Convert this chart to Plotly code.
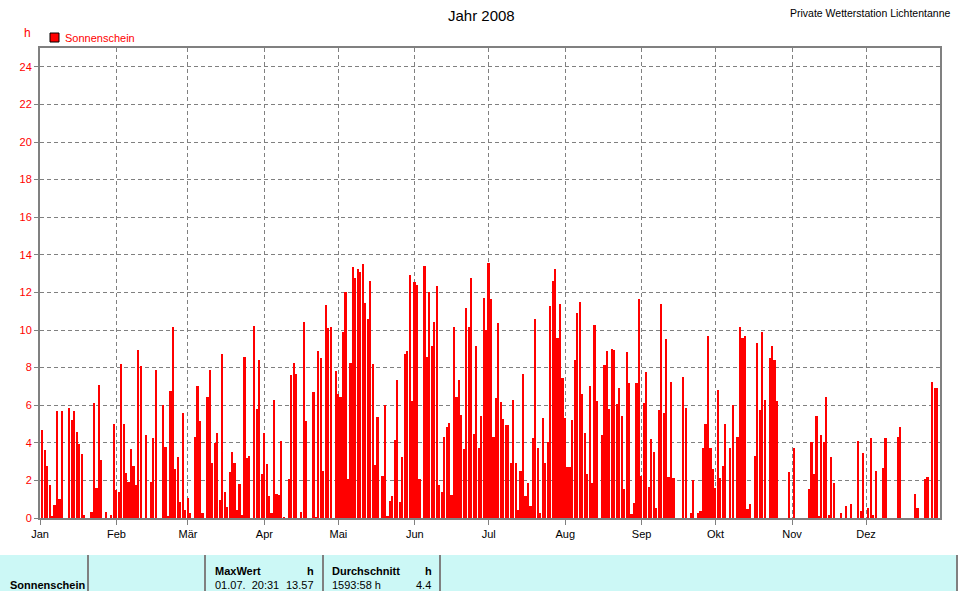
import plotly.graph_objects as go
import pandas as pd

# ---- data: daily sunshine hours 2008 (h) ----
months = ["Jan", "Feb", "Mär", "Apr", "Mai", "Jun", "Jul", "Aug", "Sep", "Okt", "Nov", "Dez"]

jan = [0, 4.7, 3.6, 2.75, 1.75, 0.1, 0.7, 5.7, 1.0, 5.7, 0, 0, 5.85, 5.2, 5.7, 4.6,
       3.95, 3.4, 0.15, 0, 0, 0.3, 6.1, 1.6, 7.05, 3.1, 0, 0.3, 0, 0.15, 5.0]
feb = [1.5, 1.4, 8.2, 5.0, 2.4, 1.9, 3.65, 2.75, 1.75, 8.95, 8.1, 0, 4.4, 0, 1.9,
       4.25, 7.85, 0, 0, 6.0, 3.8, 0.1, 6.75, 10.15, 2.6, 3.25, 0.85, 5.6, 0.4]
mar = [1.05, 0.25, 0, 4.3, 7.0, 5.15, 0.25, 0, 6.45, 7.85, 2.9, 4.0, 4.5, 0.95, 8.7,
       1.4, 0.6, 2.45, 3.5, 2.95, 0.45, 1.8, 0.15, 8.55, 3.2, 3.3, 0, 10.2, 5.8, 8.4, 2.35]
apr = [4.5, 2.85, 1.15, 0.25, 6.3, 1.3, 1.25, 4.1, 0.05, 0, 2.1, 7.6, 8.25, 7.65, 0,
       0.3, 10.45, 5.15, 0, 0, 6.7, 0.05, 8.9, 8.5, 2.5, 11.35, 10.1, 10.15, 0, 7.8]
mai = [6.6, 6.45, 9.9, 12.0, 2.05, 8.25, 13.35, 12.75, 13.25, 13.1, 13.5, 11.45, 10.6,
       12.6, 8.2, 2.8, 5.35, 0, 2.25, 6.0, 0.1, 0.9, 1.15, 4.15, 7.35, 0.85, 3.25, 8.7,
       8.9, 12.9, 6.2]
jun = [12.55, 12.4, 2.05, 0, 13.4, 8.55, 12.0, 9.15, 10.45, 12.35, 1.75, 1.4, 4.3, 4.85,
       5.05, 1.2, 10.15, 6.45, 7.35, 5.5, 3.65, 11.15, 10.15, 12.75, 4.45, 9.15, 3.7,
       5.4, 11.7, 10.0]
jul = [13.57, 11.65, 4.3, 6.4, 10.35, 6.15, 5.25, 4.95, 4.95, 2.9, 6.3, 2.95, 0.4, 2.5,
       7.65, 1.15, 1.85, 0.65, 4.25, 10.6, 3.7, 0.25, 5.3, 2.9, 4.05, 11.3, 12.6, 13.25,
       9.55, 11.4, 7.45]
aug = [5.3, 2.7, 2.7, 5.2, 8.4, 10.9, 11.5, 6.6, 4.5, 2.35, 7.0, 1.85, 10.25, 6.25, 0,
       4.4, 8.15, 8.9, 5.8, 9.0, 8.95, 6.05, 6.9, 5.4, 1.55, 8.85, 7.2, 0.2, 0.8, 7.2, 11.65]
sep = [2.25, 6.1, 7.75, 1.65, 4.2, 3.5, 0.55, 5.75, 11.4, 5.6, 9.5, 2.2, 7.25, 2.15, 0,
       0, 0, 7.5, 5.85, 0, 0.25, 2.0, 0, 0.25, 0.35, 3.7, 5.0, 9.7, 3.7, 2.6]
okt = [1.6, 6.8, 2.15, 2.75, 5.0, 0, 3.75, 6.0, 0, 4.3, 10.15, 9.55, 9.7, 0.5, 0.75, 0,
       3.3, 9.3, 5.75, 9.9, 6.3, 0, 8.5, 9.15, 8.4, 6.2, 0, 0, 0, 0, 2.45]
nov = [0, 3.7, 0, 0, 0, 0, 0, 1.55, 4.05, 2.35, 5.4, 0.1, 4.4, 4.05, 6.45, 0.15, 3.25,
       1.85, 0, 0, 0.25, 0, 0.65, 0, 0.75, 0, 0, 4.1, 0.35, 3.45]
dez = [0, 0.55, 4.25, 0.15, 2.5, 0, 0, 2.65, 4.25, 0, 0, 0, 0, 4.3, 4.85, 0, 0, 0, 0, 0,
       1.3, 0.55, 0, 0, 2.05, 2.2, 0, 7.25, 6.9, 6.9, 0]

values = jan + feb + mar + apr + mai + jun + jul + aug + sep + okt + nov + dez
dates = pd.date_range("2008-01-01", "2008-12-31", freq="D")
month_starts = pd.date_range("2008-01-01", periods=12, freq="MS")
y_ticks = list(range(0, 25, 2))

series_name = "Sonnenschein"
title_text = "Jahr 2008"
station_text = "Private Wetterstation Lichtentanne"
unit_text = "h"
max_label = "MaxWert"
max_time = "01.07.  20:31"
max_value = "13.57"
avg_label = "Durchschnitt"
avg_total = "1593:58 h"
avg_value = "4.4"

# ---- layout helpers (pixel -> paper) ----
W, H = 960, 591
L, R, T, B = 40, 940, 48, 518


def px(x):
    return (x - L) / (R - L)


def py(y):
    return (B - y) / (B - T)


FONT = "Liberation Sans, Arial, sans-serif"
GRAY = "#808080"
RED = "#ff0000"
DASH = "4px,3px"

fig = go.Figure(
    go.Bar(
        x=dates,
        y=values,
        name=series_name,
        marker=dict(color=RED, line=dict(width=0)),
        width=0.68 * 86400000,
        showlegend=False,
    )
)

fig.update_layout(
    width=W,
    height=H,
    margin=dict(l=L, r=W - R, t=T, b=H - B),
    paper_bgcolor="white",
    plot_bgcolor="white",
    font=dict(family=FONT, size=11, color="black"),
    bargap=0,
)

fig.update_xaxes(
    type="date",
    range=["2008-01-01", "2008-12-31"],
    tickvals=month_starts,
    ticktext=months,
    showgrid=True,
    gridcolor=GRAY,
    griddash=DASH,
    gridwidth=1,
    ticks="outside",
    ticklen=5,
    tickcolor=GRAY,
    showline=True,
    linecolor=GRAY,
    linewidth=2,
    mirror=True,
    zeroline=False,
    tickfont=dict(color="black", size=11, family=FONT),
)
fig.update_yaxes(
    range=[0, 25],
    tickvals=y_ticks,
    showgrid=True,
    gridcolor=GRAY,
    griddash=DASH,
    gridwidth=1,
    ticks="outside",
    ticklen=4,
    tickcolor=GRAY,
    showline=True,
    linecolor=GRAY,
    linewidth=2,
    mirror=True,
    zeroline=False,
    tickfont=dict(color=RED, size=11, family=FONT),
)

shapes = [
    # legend swatch
    dict(type="rect", xref="paper", yref="paper", x0=px(50), x1=px(59), y0=py(42), y1=py(33),
         fillcolor=RED, line=dict(color="black", width=1)),
    # bottom table band
    dict(type="rect", xref="paper", yref="paper", x0=px(0), x1=px(957), y0=py(591), y1=py(555),
         fillcolor="#ccf8f6", line=dict(width=0), layer="below"),
]
for sx in [88, 205, 323, 440, 957]:
    shapes.append(dict(type="line", xref="paper", yref="paper", x0=px(sx), x1=px(sx),
                       y0=py(591), y1=py(555), line=dict(color=GRAY, width=2)))

annotations = [
    dict(text=unit_text, x=px(27.5), y=py(33), xanchor="center", yanchor="middle",
         font=dict(color=RED, size=12)),
    dict(text=series_name, x=px(63), y=py(37.5), xanchor="left", yanchor="middle",
         font=dict(color=RED, size=11)),
    dict(text=title_text, x=px(481), y=py(15), xanchor="center", yanchor="middle",
         font=dict(color="black", size=15)),
    dict(text=station_text, x=px(952), y=py(13.5), xanchor="right", yanchor="middle",
         font=dict(color="black", size=10.5)),
    dict(text="<b>" + series_name + "</b>", x=px(8), y=py(584.5), xanchor="left", yanchor="middle",
         font=dict(color="black", size=11)),
    dict(text="<b>" + max_label + "</b>", x=px(213), y=py(570.5), xanchor="left", yanchor="middle",
         font=dict(color="black", size=11)),
    dict(text="<b>" + unit_text + "</b>", x=px(316), y=py(570.5), xanchor="right", yanchor="middle",
         font=dict(color="black", size=11)),
    dict(text=max_time, x=px(213), y=py(584.5), xanchor="left", yanchor="middle",
         font=dict(color="black", size=11)),
    dict(text=max_value, x=px(316), y=py(584.5), xanchor="right", yanchor="middle",
         font=dict(color="black", size=11)),
    dict(text="<b>" + avg_label + "</b>", x=px(330), y=py(570.5), xanchor="left", yanchor="middle",
         font=dict(color="black", size=11)),
    dict(text="<b>" + unit_text + "</b>", x=px(434), y=py(570.5), xanchor="right", yanchor="middle",
         font=dict(color="black", size=11)),
    dict(text=avg_total, x=px(330), y=py(584.5), xanchor="left", yanchor="middle",
         font=dict(color="black", size=11)),
    dict(text=avg_value, x=px(433), y=py(584.5), xanchor="right", yanchor="middle",
         font=dict(color="black", size=11)),
]
for a in annotations:
    a.update(xref="paper", yref="paper", showarrow=False)

fig.update_layout(shapes=shapes, annotations=annotations)

fig.write_html(
    "out.html",
    config={"displayModeBar": False},
    post_script="document.body.style.margin='0';document.body.style.padding='0';"
                "document.body.style.overflow='hidden';",
)
